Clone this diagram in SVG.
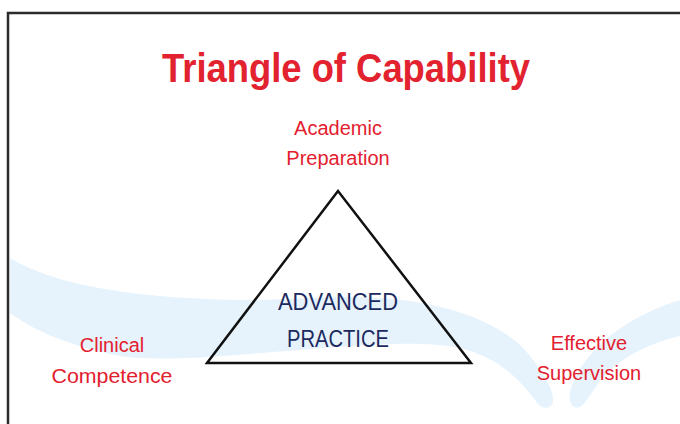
<svg xmlns="http://www.w3.org/2000/svg" width="680" height="424" viewBox="0 0 680 424">
  <style>
    .lbl { font-family: "Liberation Sans", Arial, sans-serif; font-size: 20px; fill: #e3202f; text-anchor: middle; }
    .core { font-family: "Liberation Sans", Arial, sans-serif; font-size: 23px; fill: #1b2a5e; text-anchor: middle; }
    .title { font-family: "Liberation Sans", Arial, sans-serif; font-size: 40px; font-weight: bold; fill: #e2222f; text-anchor: middle; }
    .ribbon { fill: #e6f3fc; stroke: none; }
  </style>
  <rect x="0" y="0" width="680" height="424" fill="#ffffff"/>
  <g id="frame">
    <path d="M 8 424 L 8 13 L 680 13" fill="none" stroke="#2b2b2b" stroke-width="2.5"/>
  </g>
  <g id="ribbon">
    <path class="ribbon" d="M 10 258 C 50 282, 120 298, 240 300 C 300 300, 330 294, 380 298 C 440 302, 490 318, 520 345 C 540 365, 555 390, 553 402 C 551 410, 540 410, 535 400 C 520 380, 500 358, 460 348 C 420 340, 360 345, 300 350 C 220 356, 160 362, 120 356 C 80 348, 40 335, 10 313 Z"/>
    <path class="ribbon" d="M 680 300 C 640 312, 590 340, 572 385 C 566 400, 572 410, 580 407 C 586 404, 592 390, 605 375 C 625 355, 650 343, 680 336 Z"/>
  </g>
  <g id="title">
    <text class="title" x="346" y="82" textLength="368" lengthAdjust="spacingAndGlyphs">Triangle of Capability</text>
  </g>
  <g id="advanced-practice">
    <polygon points="338,191 207,363 471,363" fill="none" stroke="#111111" stroke-width="2.5" stroke-linejoin="miter"/>
    <text class="core" x="338" y="310" textLength="120" lengthAdjust="spacingAndGlyphs">ADVANCED</text>
    <text class="core" x="338" y="347" textLength="102" lengthAdjust="spacingAndGlyphs">PRACTICE</text>
  </g>
  <g id="academic-preparation">
    <text class="lbl" x="338" y="135">Academic</text>
    <text class="lbl" x="338" y="165">Preparation</text>
  </g>
  <g id="clinical-competence">
    <text class="lbl" x="112" y="352">Clinical</text>
    <text class="lbl" x="112" y="383" textLength="121" lengthAdjust="spacingAndGlyphs">Competence</text>
  </g>
  <g id="effective-supervision">
    <text class="lbl" x="589" y="350">Effective</text>
    <text class="lbl" x="589" y="380">Supervision</text>
  </g>
</svg>
